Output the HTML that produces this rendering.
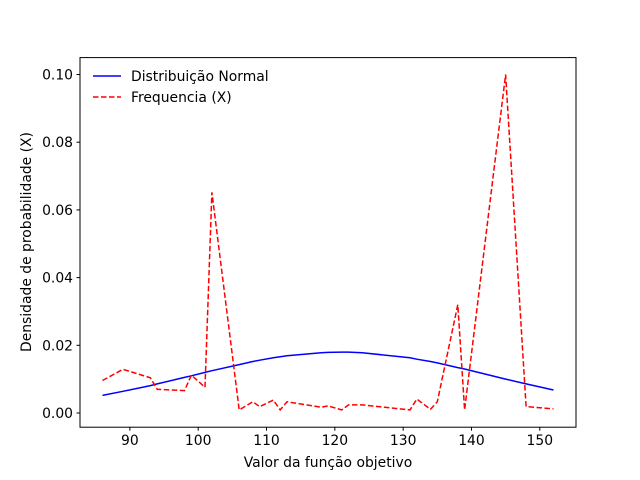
<!DOCTYPE html>
<html><head><meta charset="utf-8"><style>body{margin:0;background:#fff}svg{display:block;font-family:"DejaVu Sans","Liberation Sans",sans-serif}</style></head>
<body>
<svg id="chart" width="640" height="480" xmlns="http://www.w3.org/2000/svg">
<rect width="640" height="480" fill="#fff"/>
<g id="marks"></g>
<rect x="80" y="57.6" width="496" height="369.6" fill="none" stroke="#000" stroke-width="1"/>
<g id="axes"></g>
<text x="328" y="467" font-size="13.9" text-anchor="middle">Valor da função objetivo</text>
<text transform="translate(31,242) rotate(-90)" font-size="13.9" text-anchor="middle">Densidade de probabilidade (X)</text>
<g>
<line x1="93" y1="76" x2="121" y2="76" stroke="#0000ff" stroke-width="1.5"/>
<text x="131" y="81" font-size="13.9">Distribuição Normal</text>
<line x1="93" y1="97" x2="121" y2="97" stroke="#ff0000" stroke-width="1.5" stroke-dasharray="5.5,2.5"/>
<text x="131" y="102" font-size="13.9">Frequencia (X)</text>
</g>
</svg>
<script>
const xs = [86,89,93,94,98,99,101,102,106,108,109,111,112,113,118,119,121,122,124,131,132,134,135,138,139,145,148,152];
const freq = [0.0096,0.0129,0.0104,0.0070,0.0066,0.0112,0.0076,0.0652,0.0009,0.0033,0.0019,0.0038,0.0009,0.0033,0.0017,0.0021,0.0009,0.0024,0.0024,0.0009,0.0041,0.0011,0.0033,0.0320,0.0009,0.1000,0.0019,0.0012];
const normal = [0.0052,0.0064,0.0081,0.0086,0.0105,0.0110,0.0120,0.0125,0.0143,0.0152,0.0156,0.0163,0.0166,0.0169,0.0178,0.0179,0.0180,0.0180,0.0178,0.0163,0.0159,0.0152,0.0148,0.0134,0.0130,0.0100,0.0086,0.0068];
const xTicks = [90,100,110,120,130,140,150];
const yTicks = [0,0.02,0.04,0.06,0.08,0.10];
const yTickLabels = ["0.00","0.02","0.04","0.06","0.08","0.10"];
const X0=80,X1=576,Y0=427.2,Y1=57.6,XMIN=82.7,XMAX=155.3,YMIN=-0.0042,YMAX=0.105;
function sx(v){return X0+(v-XMIN)/(XMAX-XMIN)*(X1-X0);}
function sy(v){return Y0-(v-YMIN)/(YMAX-YMIN)*(Y0-Y1);}
const NS="http://www.w3.org/2000/svg";
const marks=document.getElementById('marks'), axes=document.getElementById('axes');
function line(vals,color,dash,name){
  const p=document.createElementNS(NS,'polyline');
  p.setAttribute('points',xs.map((x,i)=>sx(x).toFixed(1)+','+sy(vals[i]).toFixed(1)).join(' '));
  p.setAttribute('fill','none');p.setAttribute('stroke',color);p.setAttribute('stroke-width','1.5');
  if(dash)p.setAttribute('stroke-dasharray',dash);
  
  
  marks.appendChild(p);
}
line(normal,'#0000ff',null,'normal-distribution-line');
line(freq,'#ff0000','5.5,2.5','frequency-line');
xTicks.forEach(t=>{
  const x=sx(t);
  const l=document.createElementNS(NS,'line');
  l.setAttribute('x1',x);l.setAttribute('x2',x);l.setAttribute('y1',Y0);l.setAttribute('y2',Y0+3.5);l.setAttribute('stroke','#000');
  
  
  axes.appendChild(l);
  const tx=document.createElementNS(NS,'text');
  tx.setAttribute('x',x);tx.setAttribute('y',Y0+18);tx.setAttribute('font-size','13.9');tx.setAttribute('text-anchor','middle');
  tx.textContent=t;
  
  
  axes.appendChild(tx);
});
yTicks.forEach((t,i)=>{
  const y=sy(t);
  const l=document.createElementNS(NS,'line');
  l.setAttribute('x1',X0-3.5);l.setAttribute('x2',X0);l.setAttribute('y1',y);l.setAttribute('y2',y);l.setAttribute('stroke','#000');
  
  
  axes.appendChild(l);
  const tx=document.createElementNS(NS,'text');
  tx.setAttribute('x',X0-7);tx.setAttribute('y',y+5);tx.setAttribute('font-size','13.9');tx.setAttribute('text-anchor','end');
  tx.textContent=yTickLabels[i];
  
  
  axes.appendChild(tx);
});
</script>
</body></html>
